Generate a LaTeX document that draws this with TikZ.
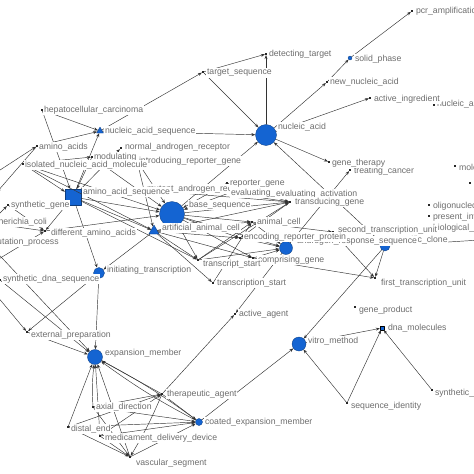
\documentclass[tikz,border=0pt]{standalone}
\usepackage{fontspec}
\setmainfont{Liberation Sans}
\usetikzlibrary{arrows.meta,shapes.geometric}
\definecolor{ndblue}{RGB}{20,100,210}
\definecolor{lblgray}{RGB}{110,110,110}

\begin{document}
\begin{tikzpicture}[x=1pt,y=-1pt,line cap=round,line join=round,
  dot/.style={rectangle,fill=black!85,inner sep=0pt,minimum size=1.8pt},
  bnode/.style={circle,fill=ndblue,draw=ndblue!60!black,line width=0.3pt,inner sep=0pt},
  btri/.style={regular polygon,regular polygon sides=3,fill=ndblue,draw=ndblue!60!black,line width=0.3pt,inner sep=0pt},
  bsq/.style={rectangle,fill=ndblue,draw=ndblue!60!black,line width=0.3pt,inner sep=0pt},
  lbl/.style={anchor=west,fill=white,inner sep=0.8pt,text=lblgray,font=\fontsize{8.7}{9}\selectfont},
  link/.style={draw=black!80,line width=0.45pt,-{Stealth[length=4pt,width=3pt]}}]
\useasboundingbox (0,0) rectangle (474,474);
\clip (0,0) rectangle (474,474);

% small nodes
\foreach \n/\x/\y in {pcr/412/11, dett/266/54, tseq/203/72, newna/327/82, actin/370/98,
  oldna/434/105, hcc/42/110, aa/37/146, nar/121/148, mod/92/157, inam/23/164, irg/137/161,
  mar/144/190, rg/227/183, ev/229/193, eva/272/196, tg/290/202, ac/252/222, erp/240/238,
  stu/333/232, ts/198/260, cg/253/258, trs/213/283, ftu/375/278, gth/329/162, tc/350/170,
  mol/455/166, unk/470/183, oli/429/205, pri/429/216, bio/429/227, sg/8/205, eco/-18/222,
  dam/45/231, mp/-13/242, sds/0/280, ep/27/332, ta/162/394, ad/93/407, de/68/427,
  mdd/100/436, vs/130/457, aag/235/314, gp/355/307, si/347/403, syn/432/390}
  \node[dot] (\n) at (\x,\y) {};

% big nodes
\node[bnode,minimum size=4pt] (solid) at (350,58) {};
\node[bnode,minimum size=21pt] (na) at (266,135) {};
\node[btri,minimum size=8pt] (nas) at (100,131) {};
\node[bsq,minimum size=16pt] (aas) at (73,197) {};
\node[bnode,minimum size=25pt] (bs) at (172,214) {};
\node[btri,minimum size=12pt] (aac) at (154,231) {};
\node[bnode,minimum size=13pt] (ars) at (286,248) {};
\node[bnode,minimum size=10pt] (spc) at (385,246) {};
\node[bnode,minimum size=11pt] (it) at (99,273) {};
\node[bnode,minimum size=15pt] (em) at (95,357) {};
\node[bnode,minimum size=7pt] (cem) at (199,422) {};
\node[bnode,minimum size=14pt] (vm) at (299,344) {};
\node[bsq,draw=black,minimum size=4pt] (dm) at (382,328) {};

\coordinate (lA) at (-3,172);
\coordinate (lB) at (-3,192);
\coordinate (lC) at (-3,216);
\coordinate (lD) at (-3,260);
\coordinate (lE) at (-3,296);
\coordinate (rc) at (480,240);

% links
\foreach \a/\b in {nas/tseq, tseq/dett, na/dett, tseq/na, na/newna, newna/solid, solid/pcr,
  na/actin, nas/na, bs/na, spc/na, na/gth, ars/tc,
  hcc/nas, aa/nas, aas/nas, hcc/aas, inam/aas, inam/mod, mod/aas, aas/nar, lA/aa, aa/lB,
  lC/sg, eco/dam, sg/dam, lD/dam, aas/dam,
  aas/bs, aas/aac, aas/ts, dam/bs, inam/bs, inam/aac, mod/bs, irg/aac, irg/bs, mar/tg,
  rg/tg, ev/tg, rg/bs, ev/bs, bs/tg, bs/ac, bs/erp, bs/ts, bs/cg, bs/ars,
  aac/ac, aac/erp, aac/ts, aac/trs, aac/tg, aac/cg, ts/ac, ts/tg, trs/ac, erp/ars,
  cg/ars, ac/ars, ts/ars, ac/stu, tg/erp,
  cg/ftu, stu/ftu, spc/ftu, spc/vm, vm/dm, si/vm, si/dm, syn/dm, cem/vm, ta/aag, ars/aag, spc/rc,
  aas/it, aac/it, it/em, ep/em, sds/em, mp/em, it/ep, lE/ep,
  ta/em, de/em, mdd/em, vs/em, de/vs, ad/vs, mdd/vs, de/ta, ad/ta, mdd/ta,
  de/cem, ad/cem, mdd/cem, vs/cem, ta/cem}
  \draw[link] (\a) -- (\b);
\draw[link] (em) to[bend left=4] (cem);
\draw[link] (cem) to[bend left=4] (em);
\draw[link] (ad) to[bend left=5] (em);
\draw[link] (ta) to[bend left=4] (vs);

% labels
\foreach \n/\x/\y/\t in {pcr/415/11/pcr\_amplification, dett/268/54/detecting\_target,
  solid/354/59/solid\_phase, tseq/206/73/target\_sequence, newna/329/82/new\_nucleic\_acid,
  oldna/436/104/nucleic\_acid, actin/373/99/active\_ingredient,
  hcc/43/110/hepatocellular\_carcinoma, nas/104/131/nucleic\_acid\_sequence,
  na/277/127/nucleic\_acid, aa/38/147/amino\_acids, nar/124/147/normal\_androgen\_receptor,
  irg/138/161/introducing\_reporter\_gene, mod/93/157/modulating,
  inam/24/165/isolated\_nucleic\_acid\_molecule, mar/146/189/mutant\_androgen\_receptor,
  aas/82/192/amino\_acid\_sequence, tc/353/171/treating\_cancer, gth/331/163/gene\_therapy,
  mol/458/167/molecule, rg/229/184/reporter\_gene, ev/230/193/evaluating\_vector,
  eva/275/194/evaluating\_activation, tg/294/202/transducing\_gene, bs/188/205/base\_sequence,
  sg/10/205/synthetic\_gene, oli/432/206/oligonucleotide, pri/432/217/present\_invention,
  bio/432/228/biological\_sample, eco/-16/222/escherichia\_coli, ac/256/222/animal\_cell,
  aac/161/228/artificial\_animal\_cell, dam/50/233/different\_amino\_acids,
  stu/337/230/second\_transcription\_unit, spc/392/240/specific\_clone,
  ars/296/241/androgen\_response\_sequence, erp/243/237/encoding\_reporter\_protein,
  mp/-11/242/mutation\_process, cg/257/260/comprising\_gene, ts/202/264/transcript\_start,
  it/106/270/initiating\_transcription, sds/2/279/synthetic\_dna\_sequence,
  ftu/380/283/first\_transcription\_unit, trs/216/283/transcription\_start,
  gp/358/310/gene\_product, aag/238/314/active\_agent, dm/387/328/dna\_molecules,
  ep/30/335/external\_preparation, vm/307/341/vitro\_method, em/104/353/expansion\_member,
  syn/434/393/synthetic\_sequence, ta/166/394/therapeutic\_agent,
  si/350/406/sequence\_identity, ad/95/407/axial\_direction,
  cem/204/422/coated\_expansion\_member, de/70/429/distal\_end,
  mdd/104/438/medicament\_delivery\_device, vs/135/463/vascular\_segment}
  \node[lbl] (\n-l) at (\x,\y) {\t};
\end{tikzpicture}
\end{document}
